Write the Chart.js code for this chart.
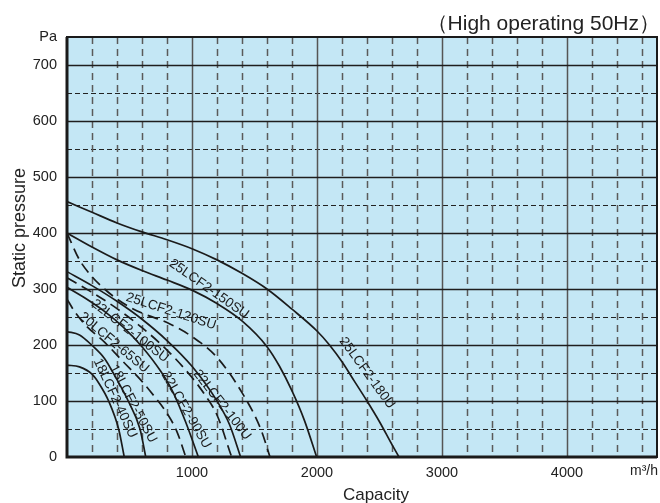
<!DOCTYPE html>
<html>
<head>
<meta charset="utf-8">
<script src="https://cdn.jsdelivr.net/npm/chart.js@4.4.1/dist/chart.umd.min.js"></script>
<style>
  html, body { margin: 0; padding: 0; background: #ffffff; }
  #wrap { width: 660px; height: 503px; }
</style>
</head>
<body>
<div id="wrap"><canvas id="c" width="660" height="503"></canvas></div>
<script>
// ---- data (capacity m3/h, static pressure Pa) ----
const seriesNames = ["18LCF2-40SU","18LCF2-50SU","20LCF2-65SU","22LCF2-90SU","22LCF2-100SU","22LCF2-100U","25LCF2-120SU","25LCF2-150SU","25LCF2-180U"];
const cap_40SU  = [0, 100, 200, 260, 333, 413, 458];
const pa_40SU   = [164, 161, 148, 130, 100, 50, 0];
const cap_50SU  = [0, 100, 197, 300, 370, 490, 584, 630];
const pa_50SU   = [224, 218, 200, 176, 150, 100, 50, 0];
const cap_65SU  = [0, 60, 150, 300, 450, 600, 700, 800, 880, 950];
const pa_65SU   = [282, 260, 235, 205, 170, 135, 108, 78, 45, 0];
const cap_90SU  = [0, 150, 300, 450, 600, 750, 850, 950, 1051];
const pa_90SU   = [303, 283, 260, 232, 197, 153, 115, 62, 0];
const cap_100SU = [0, 200, 400, 600, 800, 1000, 1100, 1200, 1317];
const pa_100SU  = [320, 294, 265, 231, 191, 142, 112, 75, 0];
const cap_100U  = [0, 200, 400, 600, 800, 1000, 1200, 1300, 1389];
const pa_100U   = [331, 306, 278, 246, 208, 162, 100, 58, 0];
const cap_120SU = [0, 100, 200, 300, 400, 500, 600, 800, 1000, 1200, 1400, 1550, 1624];
const pa_120SU  = [400, 352, 322, 300, 282, 268, 257, 240, 215, 178, 115, 50, 0];
const cap_150SU = [0, 200, 400, 600, 800, 1000, 1200, 1400, 1600, 1700, 1800, 1900, 1997];
const pa_150SU  = [400, 375, 352, 333, 316, 298, 274, 243, 197, 162, 118, 65, 0];
const cap_180U  = [0, 200, 400, 600, 800, 1000, 1200, 1400, 1600, 1800, 2000, 2100, 2200, 2300, 2400, 2500, 2600, 2656];
const pa_180U   = [456, 437, 418, 402, 388, 372, 352, 328, 300, 264, 225, 200, 170, 135, 100, 63, 22, 0];
const seriesDashed = [false, false, true, false, true, false, true, false, false];

const xTickLabels = [1000, 2000, 3000, 4000];
const yTickLabels = [0, 100, 200, 300, 400, 500, 600, 700];

// curve label anchors (data coords) and angles (deg)
const labelCap   = [384, 528, 376, 952, 504, 1240, 832, 1136, 2400];
const labelPa    = [105, 95, 204, 84, 225, 93, 260, 300, 150];
const labelAngle = [65, 62, 40, 60, 38, 52, 18, 35, 54];

const caps = [cap_40SU, cap_50SU, cap_65SU, cap_90SU, cap_100SU, cap_100U, cap_120SU, cap_150SU, cap_180U];
const pas  = [pa_40SU, pa_50SU, pa_65SU, pa_90SU, pa_100SU, pa_100U, pa_120SU, pa_150SU, pa_180U];

const datasets = seriesNames.map((n, i) => ({
  label: n,
  data: caps[i].map((x, k) => ({ x: x, y: pas[i][k] })),
  borderColor: '#1b1b1b',
  borderWidth: 1.7,
  borderDash: seriesDashed[i] ? [11, 6] : [],
  pointRadius: 0,
  fill: false,
  cubicInterpolationMode: 'monotone'
}));

const FONT = '"Liberation Sans", Arial, sans-serif';

const decor = {
  id: 'decor',
  beforeDatasetsDraw(chart) {
    const { ctx, chartArea: a, scales: { x, y } } = chart;
    ctx.save();
    ctx.fillStyle = '#c4e7f5';
    ctx.fillRect(a.left, a.top, a.right - a.left, a.bottom - a.top);
    ctx.strokeStyle = '#222';
    ctx.lineWidth = 1.2;
    ctx.setLineDash([5, 3]);
    for (let v = 50; v < 750; v += 100) {
      const py = Math.round(y.getPixelForValue(v)) + 0.5;
      ctx.beginPath(); ctx.moveTo(a.left, py); ctx.lineTo(a.right, py); ctx.stroke();
    }
    ctx.strokeStyle = '#5a5a5a';
    ctx.lineWidth = 1.5;
    ctx.setLineDash([7, 5]);
    for (let v = 200; v < 4720; v += 200) {
      if (v % 1000 === 0) continue;
      const px = Math.round(x.getPixelForValue(v)) + 0.5;
      ctx.beginPath(); ctx.moveTo(px, a.top); ctx.lineTo(px, a.bottom); ctx.stroke();
    }
    ctx.setLineDash([]);
    ctx.strokeStyle = '#555';
    ctx.lineWidth = 1.5;
    for (let v = 1000; v < 4720; v += 1000) {
      const px = Math.round(x.getPixelForValue(v)) + 0.5;
      ctx.beginPath(); ctx.moveTo(px, a.top); ctx.lineTo(px, a.bottom); ctx.stroke();
    }
    ctx.strokeStyle = '#1e1e1e';
    ctx.lineWidth = 1.4;
    for (let v = 100; v < 750; v += 100) {
      const py = Math.round(y.getPixelForValue(v)) + 0.5;
      ctx.beginPath(); ctx.moveTo(a.left, py); ctx.lineTo(a.right, py); ctx.stroke();
    }
    ctx.restore();
  },
  afterDatasetsDraw(chart) {
    const { ctx, chartArea: a, scales: { x, y } } = chart;
    ctx.save();
    ctx.strokeStyle = '#1a1a1a';
    ctx.lineWidth = 2;
    ctx.strokeRect(a.left, a.top, a.right - a.left, a.bottom - a.top);
    ctx.lineWidth = 3;
    ctx.beginPath();
    ctx.moveTo(a.left, a.top); ctx.lineTo(a.left, a.bottom); ctx.lineTo(a.right, a.bottom);
    ctx.stroke();
    ctx.fillStyle = '#1b1b1b';
    ctx.font = '13.5px ' + FONT;
    ctx.textAlign = 'center';
    ctx.textBaseline = 'middle';
    seriesNames.forEach((n, i) => {
      const px = x.getPixelForValue(labelCap[i]);
      const py = y.getPixelForValue(labelPa[i]);
      ctx.save();
      ctx.translate(px, py);
      ctx.rotate(labelAngle[i] * Math.PI / 180);
      ctx.fillText(n, 0, 0);
      ctx.restore();
    });
    ctx.fillStyle = '#222';
    ctx.font = '21px ' + FONT;
    ctx.textAlign = 'right';
    ctx.textBaseline = 'alphabetic';
    ctx.fillText('\uFF08High operating 50Hz\uFF09', 660, 30);
    ctx.font = '17px ' + FONT;
    ctx.textAlign = 'center';
    ctx.fillText('Capacity', 376, 500);
    ctx.font = '14px ' + FONT;
    ctx.textAlign = 'right';
    ctx.fillText('m\u00B3/h', 658, 475);
    ctx.save();
    ctx.translate(25, 228);
    ctx.rotate(-Math.PI / 2);
    ctx.font = '18px ' + FONT;
    ctx.textAlign = 'center';
    ctx.fillText('Static pressure', 0, 0);
    ctx.restore();
    ctx.restore();
  }
};

new Chart(document.getElementById('c'), {
  type: 'line',
  data: { datasets },
  options: {
    responsive: false,
    animation: false,
    devicePixelRatio: 1,
    layout: { padding: { top: 37, right: 3, left: 0, bottom: 0 } },
    plugins: { legend: { display: false }, tooltip: { enabled: false }, title: { display: false } },
    scales: {
      x: {
        type: 'linear', min: 0, max: 4720,
        grid: { display: false, drawTicks: false },
        border: { display: false },
        afterFit: s => { s.height = 46; },
        afterBuildTicks: s => { s.ticks = xTickLabels.map(v => ({ value: v })); },
        ticks: { padding: 7, color: '#222', font: { family: FONT, size: 14.5 }, maxRotation: 0, autoSkip: false,
          callback: v => String(v) }
      },
      y: {
        type: 'linear', min: 0, max: 750,
        grid: { display: false, drawTicks: false },
        border: { display: false },
        afterFit: s => { s.width = 67; },
        afterBuildTicks: s => { s.ticks = yTickLabels.map(v => ({ value: v })).concat([{ value: 750 }]); },
        ticks: { padding: 10, color: '#222', font: { family: FONT, size: 14.5 }, autoSkip: false,
          callback: v => v === 750 ? 'Pa' : String(v) }
      }
    }
  },
  plugins: [decor]
});
</script>
</body>
</html>
